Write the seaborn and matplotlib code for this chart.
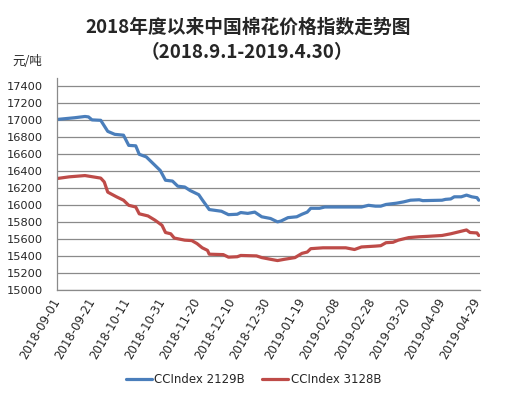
import pandas as pd
import matplotlib
matplotlib.use("Agg")
import matplotlib.pyplot as plt
import matplotlib.dates as mdates
import seaborn as sns

# ── data (yuan / ton) ─────────────────────────────────────────
dates_2129 = [
    "2018-09-01", "2018-09-11", "2018-09-17", "2018-09-19", "2018-09-21", "2018-09-26",
    "2018-09-30", "2018-10-04", "2018-10-09", "2018-10-12", "2018-10-16", "2018-10-18",
    "2018-10-22", "2018-10-27", "2018-10-30", "2018-11-02", "2018-11-06", "2018-11-09",
    "2018-11-13", "2018-11-16", "2018-11-21", "2018-11-23", "2018-11-27", "2018-12-04",
    "2018-12-08", "2018-12-13", "2018-12-15", "2018-12-19", "2018-12-23", "2018-12-27",
    "2019-01-01", "2019-01-05", "2019-01-07", "2019-01-11", "2019-01-16", "2019-01-19",
    "2019-01-22", "2019-01-24", "2019-01-29", "2019-02-01", "2019-02-22", "2019-02-26",
    "2019-03-02", "2019-03-05", "2019-03-08", "2019-03-14", "2019-03-18", "2019-03-22",
    "2019-03-27", "2019-03-29", "2019-04-09", "2019-04-11", "2019-04-14", "2019-04-16",
    "2019-04-20", "2019-04-23", "2019-04-26", "2019-04-29", "2019-04-30",
]
values_2129 = [
    17010, 17030, 17045, 17040, 17005, 17000,
    16870, 16835, 16825, 16705, 16700, 16600,
    16570, 16470, 16410, 16295, 16285, 16225,
    16215, 16175, 16125, 16065, 15950, 15930,
    15890, 15895, 15915, 15905, 15920, 15865,
    15845, 15805, 15815, 15855, 15865, 15895,
    15920, 15965, 15965, 15980, 15980, 16000,
    15990, 15990, 16010, 16025, 16040, 16060,
    16065, 16055, 16060, 16070, 16075, 16100,
    16100, 16120, 16100, 16090, 16060,
]

dates_3128 = [
    "2018-09-01", "2018-09-08", "2018-09-17", "2018-09-26", "2018-09-28", "2018-09-30",
    "2018-10-05", "2018-10-09", "2018-10-12", "2018-10-16", "2018-10-18", "2018-10-23",
    "2018-10-27", "2018-10-31", "2018-11-02", "2018-11-05", "2018-11-07", "2018-11-13",
    "2018-11-17", "2018-11-20", "2018-11-23", "2018-11-26", "2018-11-27", "2018-12-05",
    "2018-12-08", "2018-12-13", "2018-12-15", "2018-12-24", "2018-12-27", "2019-01-01",
    "2019-01-05", "2019-01-09", "2019-01-15", "2019-01-19", "2019-01-22", "2019-01-24",
    "2019-01-31", "2019-02-13", "2019-02-18", "2019-02-22", "2019-03-02", "2019-03-05",
    "2019-03-08", "2019-03-12", "2019-03-15", "2019-03-21", "2019-03-27", "2019-04-01",
    "2019-04-09", "2019-04-14", "2019-04-18", "2019-04-23", "2019-04-25", "2019-04-29",
    "2019-04-30",
]
values_3128 = [
    16315, 16335, 16350, 16320, 16275, 16155,
    16100, 16060, 16000, 15980, 15900, 15875,
    15825, 15765, 15680, 15665, 15615, 15590,
    15585, 15550, 15500, 15470, 15425, 15420,
    15390, 15395, 15410, 15405, 15385, 15365,
    15350, 15365, 15385, 15435, 15450, 15490,
    15500, 15500, 15480, 15510, 15520, 15525,
    15560, 15565, 15590, 15620, 15630, 15635,
    15645, 15665, 15685, 15710, 15680, 15675,
    15645,
]

series_names = ["CCIndex 2129B", "CCIndex 3128B"]
colors = ["#4A7EBB", "#BE4B48"]
y_ticks = list(range(15000, 17401, 200))

df = pd.concat([
    pd.DataFrame({"date": pd.to_datetime(dates_2129), "price": values_2129, "series": series_names[0]}),
    pd.DataFrame({"date": pd.to_datetime(dates_3128), "price": values_3128, "series": series_names[1]}),
])

# ── plot ──────────────────────────────────────────────────────
sns.set_style("white")
plt.rcParams["font.family"] = ["DejaVu Sans", "Noto Sans CJK SC"]
cjk = ["Noto Sans CJK SC", "DejaVu Sans"]

fig = plt.figure(figsize=(5.07, 3.99), dpi=100)
ax = fig.add_axes([0.1124, 0.2724, 0.8343, 0.5326])

sns.lineplot(data=df, x="date", y="price", hue="series", palette=colors,
             linewidth=2.3, ax=ax, legend=False)

start = pd.Timestamp("2018-09-01")
ax.set_xlim(start, start + pd.Timedelta(days=241.7))
ax.set_ylim(15000, 17500)
ax.set_yticks(y_ticks)
ax.yaxis.grid(True, color="#8a8a8a", linewidth=0.9)
ax.set_axisbelow(True)

x_ticks = pd.date_range("2018-09-01", periods=13, freq="20D")
ax.set_xticks(x_ticks)
ax.xaxis.set_major_formatter(mdates.DateFormatter("%Y-%m-%d"))
plt.setp(ax.get_xticklabels(), rotation=60, ha="right", va="center",
         rotation_mode="anchor", fontsize=8.5)
ax.tick_params(axis="x", direction="in", length=6, color="#8a8a8a", pad=6)
ax.tick_params(axis="y", length=0, labelsize=8.2, pad=10)

for side in ["top", "right"]:
    ax.spines[side].set_visible(False)
for side in ["left", "bottom"]:
    ax.spines[side].set_color("#8a8a8a")
    ax.spines[side].set_linewidth(0.9)

ax.set_xlabel("")
ax.set_ylabel("")

fig.text(0.49, 0.931, "2018年度以来中国棉花价格指数走势图", ha="center", va="center",
         fontsize=13.5, fontweight="bold", family=cjk)
fig.text(0.487, 0.869, "（2018.9.1-2019.4.30）", ha="center", va="center",
         fontsize=13.5, fontweight="bold", family=cjk)
fig.text(0.054, 0.845, "元/吨", ha="center", va="center", fontsize=9, family=cjk)

handles = [plt.Line2D([], [], color=c, linewidth=2.3) for c in colors]
fig.legend(handles, series_names, loc="center", bbox_to_anchor=(0.5, 0.048),
           ncol=2, frameon=False, fontsize=8.5, handlelength=2.2,
           handletextpad=0.2, columnspacing=1.5)

plt.savefig("out.png", dpi=100)
plt.close()
